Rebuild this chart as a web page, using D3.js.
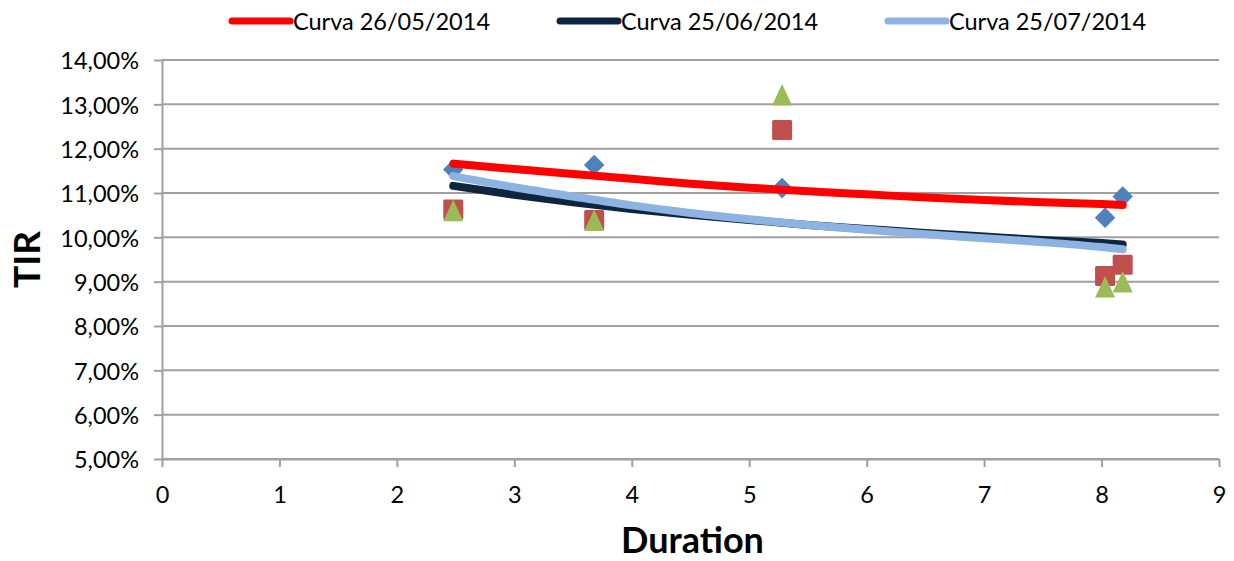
<!DOCTYPE html>
<html>
<head>
<meta charset="utf-8">
<script src="https://cdn.jsdelivr.net/npm/d3@7/dist/d3.min.js"></script>
<style>
  html, body { margin: 0; padding: 0; background: #fff; }
  svg { display: block; font-family: Lato, "Noto Sans", sans-serif; }
</style>
</head>
<body>
<svg id="chart" width="1234" height="561"></svg>
<script>
// ---- data ----
const durations = [2.48, 3.68, 5.28, 8.03, 8.18];
const tirDiamond = [11.53, 11.63, 11.11, 10.44, 10.92];
const tirSquare = [10.63, 10.39, 12.42, 9.13, 9.38];
const tirTriangle = [10.60, 10.38, 13.21, 8.88, 8.99];

const curveX = [2.48, 3.0, 3.5, 4.0, 4.5, 5.0, 5.5, 6.0, 6.5, 7.0, 7.5, 8.0, 8.18];
const curva0526 = [11.66, 11.54, 11.43, 11.32, 11.21, 11.12, 11.04, 10.97, 10.90, 10.84, 10.79, 10.75, 10.73];
const curva0625 = [11.16, 10.96, 10.79, 10.64, 10.51, 10.39, 10.28, 10.19, 10.10, 10.02, 9.94, 9.87, 9.84];
const curva0725 = [11.38, 11.13, 10.92, 10.72, 10.55, 10.41, 10.28, 10.17, 10.07, 9.98, 9.89, 9.78, 9.73];

const seriesNames = ["Curva 26/05/2014", "Curva 25/06/2014", "Curva 25/07/2014"];
const xTicks = [0, 1, 2, 3, 4, 5, 6, 7, 8, 9];
const yTicks = [5, 6, 7, 8, 9, 10, 11, 12, 13, 14];
const xTitle = "Duration";
const yTitle = "TIR";

// ---- layout ----
const svg = d3.select("#chart");
const plotLeft = 162, plotTop = 60, plotW = 1057, plotH = 399;
const x = d3.scaleLinear().domain([0, 9]).range([plotLeft, plotLeft + plotW]);
const y = d3.scaleLinear().domain([5, 14]).range([plotTop + plotH, plotTop]);

const gridColor = "#a0a0a0";
const locale = d3.formatLocale({decimal: ",", thousands: ".", grouping: [3], currency: ["", ""]});
const fmtPct = v => locale.format(".2f")(v) + "%";

// gridlines
svg.append("g").selectAll("line").data(yTicks).join("line")
  .attr("x1", x(0)).attr("x2", x(9))
  .attr("y1", d => y(d)).attr("y2", d => y(d))
  .attr("stroke", gridColor).attr("stroke-width", 2);

// y axis
const yAxis = svg.append("g").attr("transform", `translate(${plotLeft},0)`)
  .call(d3.axisLeft(y).tickValues(yTicks).tickFormat(fmtPct).tickSize(8).tickPadding(15).tickSizeOuter(0));
// x axis
const xAxis = svg.append("g").attr("transform", `translate(0,${plotTop + plotH})`)
  .call(d3.axisBottom(x).tickValues(xTicks).tickFormat(d3.format("d")).tickSize(8).tickPadding(19).tickSizeOuter(0));

[yAxis, xAxis].forEach(g => {
  g.select(".domain").attr("stroke", gridColor).attr("stroke-width", 2);
  g.selectAll(".tick line").attr("stroke", gridColor).attr("stroke-width", 2);
  g.selectAll(".tick text").attr("fill", "#000").style("font-size", "23.5px").style("font-family", "Lato, sans-serif");
});
yAxis.selectAll(".tick text").attr("dy", "0.38em");

// markers
const pts = i => durations.map((d, k) => [d, [tirDiamond, tirSquare, tirTriangle][i][k]]);
svg.append("g").selectAll("path").data(pts(0)).join("path")
  .attr("d", d3.symbol(d3.symbolSquare, 14.5 * 14.5)())
  .attr("transform", d => `translate(${x(d[0])},${y(d[1])}) rotate(45)`)
  .attr("fill", "#4f81bd");
svg.append("g").selectAll("rect").data(pts(1)).join("rect")
  .attr("x", d => x(d[0]) - 10).attr("y", d => y(d[1]) - 10)
  .attr("width", 20).attr("height", 20).attr("rx", 1.5)
  .attr("fill", "#c0504d");
svg.append("g").selectAll("path").data(pts(2)).join("path")
  .attr("d", "M0,-11L10,10.5L-10,10.5Z")
  .attr("transform", d => `translate(${x(d[0])},${y(d[1])})`)
  .attr("fill", "#9bbb59");

// curves
const colors = ["#ff0000", "#0f243e", "#8db3e2"];
const curves = [curva0526, curva0625, curva0725];
const line = d3.line().x(d => x(d[0])).y(d => y(d[1])).curve(d3.curveMonotoneX);
curves.forEach((c, i) => {
  svg.append("path")
    .attr("d", line(curveX.map((xv, k) => [xv, c[k]])))
    .attr("fill", "none").attr("stroke", colors[i])
    .attr("stroke-width", 8).attr("stroke-linecap", "round").attr("stroke-linejoin", "round");
});

// legend
const legendX = [232, 560, 888];
const leg = svg.append("g");
seriesNames.forEach((n, i) => {
  leg.append("line").attr("x1", legendX[i]).attr("x2", legendX[i] + 58)
    .attr("y1", 21).attr("y2", 21)
    .attr("stroke", colors[i]).attr("stroke-width", 7).attr("stroke-linecap", "round");
  leg.append("text").attr("x", legendX[i] + 61).attr("y", 30)
    .style("font-size", "23.5px").attr("fill", "#000").text(n);
});

// axis titles
svg.append("text").attr("x", x(4.5) + 2).attr("y", 553)
  .attr("text-anchor", "middle").style("font-size", "36px").style("font-weight", "bold")
  .text(xTitle);
svg.append("text").attr("transform", `translate(40,${plotTop + plotH / 2}) rotate(-90)`)
  .attr("text-anchor", "middle").style("font-size", "37px").style("font-weight", "bold")
  .text(yTitle);
</script>
</body>
</html>
